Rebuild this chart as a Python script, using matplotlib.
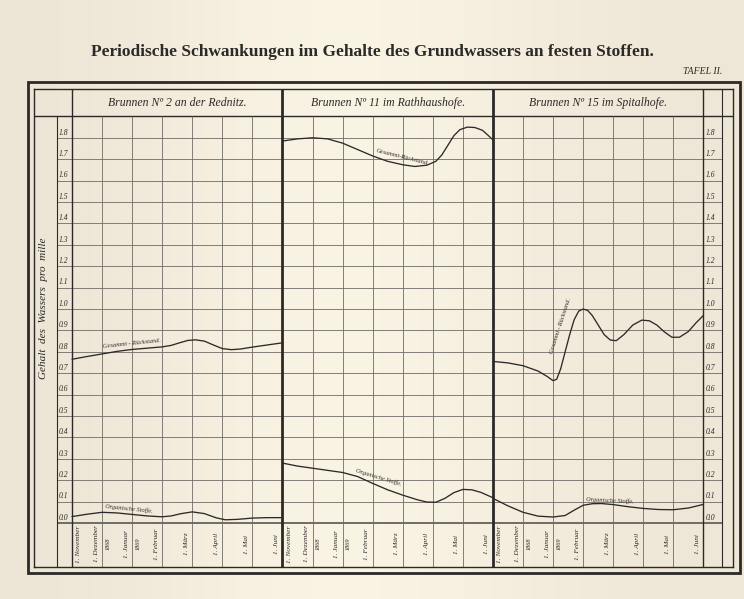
import matplotlib.pyplot as plt
import numpy as np

# ---- data ----
months = ["1. November", "1. Dezember", "1. Januar", "1. Februar",
          "1. März", "1. April", "1. Mai", "1. Juni"]
years = ["1868", "1869"]
wells = ["Brunnen N\u00ba 2 an der Rednitz.",
         "Brunnen N\u00ba 11 im Rathhaushofe.",
         "Brunnen N\u00ba 15 im Spitalhofe."]
yticks = [round(0.1 * i, 1) for i in range(19)]

# month index (0 = 1. November, 7 = 1. Juni) and value pro mille
p1_total_x = [0, 0.5, 1, 1.5, 2, 2.5, 3, 3.3, 3.6, 3.85, 4.1, 4.4, 4.7,
              5, 5.3, 5.6, 6, 6.5, 7]
p1_total = [0.765, 0.778, 0.79, 0.802, 0.811, 0.817, 0.823, 0.83, 0.843,
            0.853, 0.856, 0.85, 0.832, 0.815, 0.81, 0.813, 0.822, 0.832,
            0.842]
p1_org_x = [0, 0.5, 1, 1.5, 2, 2.5, 3, 3.3, 3.6, 4, 4.4, 4.8, 5.1, 5.5,
            6, 6.5, 7]
p1_org = [0.03, 0.041, 0.05, 0.047, 0.04, 0.033, 0.029, 0.033, 0.043,
          0.052, 0.044, 0.024, 0.015, 0.017, 0.023, 0.025, 0.025]

p2_total_x = [0, 0.5, 1, 1.5, 2, 2.5, 3, 3.5, 4, 4.4, 4.8, 5.1, 5.3,
              5.5, 5.7, 5.9, 6.15, 6.4, 6.65, 6.85, 7]
p2_total = [1.785, 1.795, 1.8, 1.795, 1.775, 1.745, 1.715, 1.69, 1.674,
            1.666, 1.672, 1.69, 1.72, 1.765, 1.81, 1.838, 1.85, 1.848,
            1.835, 1.81, 1.79]
p2_org_x = [0, 0.5, 1, 1.5, 2, 2.5, 3, 3.5, 4, 4.5, 4.8, 5.1, 5.4,
            5.7, 6, 6.3, 6.6, 7]
p2_org = [0.28, 0.266, 0.256, 0.246, 0.236, 0.217, 0.185, 0.155, 0.13,
          0.108, 0.098, 0.097, 0.115, 0.142, 0.157, 0.155, 0.143, 0.118]

p3_total_x = [0, 0.5, 1, 1.5, 1.8, 2, 2.12, 2.25, 2.4, 2.55, 2.7, 2.85,
              3, 3.15, 3.3, 3.5, 3.7, 3.9, 4.1, 4.35, 4.65, 4.95, 5.2,
              5.45, 5.7, 5.95, 6.2, 6.5, 6.75, 7]
p3_total = [0.755, 0.748, 0.735, 0.71, 0.685, 0.665, 0.672, 0.72, 0.8,
            0.88, 0.95, 0.99, 1.0, 0.993, 0.97, 0.925, 0.88, 0.855, 0.852,
            0.88, 0.925, 0.948, 0.945, 0.925, 0.893, 0.868, 0.868, 0.895,
            0.935, 0.97]
p3_org_x = [0, 0.5, 1, 1.5, 2, 2.4, 2.7, 3, 3.3, 3.6, 4, 4.5, 5, 5.5, 6,
            6.5, 7]
p3_org = [0.115, 0.08, 0.05, 0.032, 0.028, 0.035, 0.06, 0.083, 0.09, 0.091,
          0.086, 0.076, 0.068, 0.063, 0.062, 0.07, 0.087]

PAPER = "#f1eadc"
INK = "#2b2a28"
GRID = "#6f6c66"
SERIF = "Liberation Serif"

W, H = 744, 599
fig = plt.figure(figsize=(W / 100, H / 100), dpi=100)
fig.patch.set_facecolor(PAPER)


def fx(px):
    return px / W


def fy(py):
    return 1 - py / H


# soft paper tone, lighter in the middle
bg = fig.add_axes([0, 0, 1, 1], zorder=-5)
tone = np.array([[0.0, 0.3, 0.75, 1.0, 0.9, 0.6, 0.3, 0.1]])
bg.imshow(tone, cmap=plt.matplotlib.colors.LinearSegmentedColormap.from_list(
    "p", ["#ede5d5", "#faf4e4"]), aspect="auto", interpolation="bicubic",
    extent=[0, 1, 0, 1])
bg.set_xlim(0, 1)
bg.set_ylim(0, 1)
bg.axis("off")

# pixel -> data scale of the plate
X_LEFT, X_RIGHT, Y_TOP, Y_BOT = 34, 733, 89, 567
PX0, PXM = 72, 30.07      # x pixel of 1. Nov (panel 1), px per month
PY0, PYU = 523, 214       # y pixel of 0.0, px per 1.0


def u(px):
    return (px - PX0) / PXM


def v(py):
    return (PY0 - py) / PYU


ax = fig.add_axes([fx(X_LEFT), fy(Y_BOT), fx(X_RIGHT) - fx(X_LEFT),
                   fy(Y_TOP) - fy(Y_BOT)])
ax.set_xlim(u(X_LEFT), u(X_RIGHT))
ax.set_ylim(v(Y_BOT), v(Y_TOP))
ax.set_facecolor("none")
ax.set_xticks([])
ax.set_yticks([])
for s in ax.spines.values():
    s.set_linewidth(1.0)
    s.set_color(INK)

ucol_l, ucol_r = u(57), u(722)
top_grid = 1.9

# horizontal rulings
for yv in yticks:
    ax.hlines(yv, ucol_l, ucol_r, color=GRID, lw=0.6 if yv > 0 else 1.4)
ax.hlines(top_grid, u(X_LEFT), u(X_RIGHT), color=INK, lw=1.0)

# vertical rulings
ybot = v(Y_BOT)
for m in range(22):
    if m % 7 == 0:
        lw = 2.0 if m in (7, 14) else 1.0
        ax.vlines(m, ybot, v(Y_TOP), color=INK, lw=lw)
    else:
        ax.vlines(m, ybot, top_grid, color=GRID, lw=0.6)
ax.vlines(ucol_l, ybot, top_grid, color=INK, lw=0.8)
ax.vlines(ucol_r, ybot, v(Y_TOP), color=INK, lw=0.8)

# y tick labels in the side columns
for yv in yticks:
    ax.text(u(59), yv + 0.006, f"{yv:.1f}", ha="left", va="bottom",
            fontsize=5.5, style="italic", family=SERIF, color=INK)
    ax.text(u(706), yv + 0.006, f"{yv:.1f}", ha="left", va="bottom",
            fontsize=5.5, style="italic", family=SERIF, color=INK)

# month labels
for p in range(3):
    for i, name in enumerate(months):
        off = 0.22 if i == 0 else -0.2
        ax.text(7 * p + i + off, v(544), name, rotation=90, ha="center",
                va="center", fontsize=5.2, style="italic", family=SERIF,
                color=INK)
    for k, yr in enumerate(years):
        ax.text(7 * p + 1 + k + 0.2, v(544), yr, rotation=90, ha="center",
                va="center", fontsize=4.5, style="italic", family=SERIF,
                color=INK)
    ax.text(7 * p + 3.5, v(103), wells[p], ha="center", va="center",
            fontsize=8.5, style="italic", family=SERIF, color=INK)

# curves
series = [(0, p1_total_x, p1_total), (0, p1_org_x, p1_org),
          (7, p2_total_x, p2_total), (7, p2_org_x, p2_org),
          (14, p3_total_x, p3_total), (14, p3_org_x, p3_org)]
for off, xs, ys in series:
    ax.plot(np.array(xs) + off, ys, color=INK, lw=0.95,
            solid_joinstyle="round", solid_capstyle="round")

# labels along the curves
lab = dict(fontsize=4.6, style="italic", family=SERIF, color=INK,
           ha="center", va="bottom")
ax.text(2.0, 0.812, "Gesammt - Rückstand.", rotation=6, **lab)
ax.text(1.9, 0.04, "Organische Stoffe.", rotation=-6, **lab)
ax.text(7 + 4.0, 1.665, "Gesammt-Rückstand.", rotation=-14, **lab)
ax.text(7 + 3.2, 0.17, "Organische Stoffe.", rotation=-17, **lab)
ax.text(14 + 2.25, 0.79, "Gesammt - Rückstand.", rotation=72, **lab)
ax.text(14 + 3.9, 0.085, "Organische Stoffe.", rotation=-3, **lab)

# y axis title
ax.text(u(44), v(308), "Gehalt  des  Wassers  pro  mille", rotation=90,
        ha="center", va="center", fontsize=8, style="italic",
        family=SERIF, color=INK)

# outer frame
fig.add_artist(plt.Rectangle((fx(28), fy(573)), fx(740) - fx(28),
                             fy(82) - fy(573), fill=False, lw=2.0,
                             ec=INK, transform=fig.transFigure))

fig.text(fx(372), fy(52), "Periodische Schwankungen im Gehalte des "
         "Grundwassers an festen Stoffen.", ha="center", va="center",
         fontsize=12.5, weight="bold", family=SERIF, color=INK)
fig.text(fx(722), fy(72), "TAFEL II.", ha="right", va="center",
         fontsize=7, style="italic", family=SERIF, color=INK)

fig.savefig("out.png", dpi=100, facecolor=fig.get_facecolor())
